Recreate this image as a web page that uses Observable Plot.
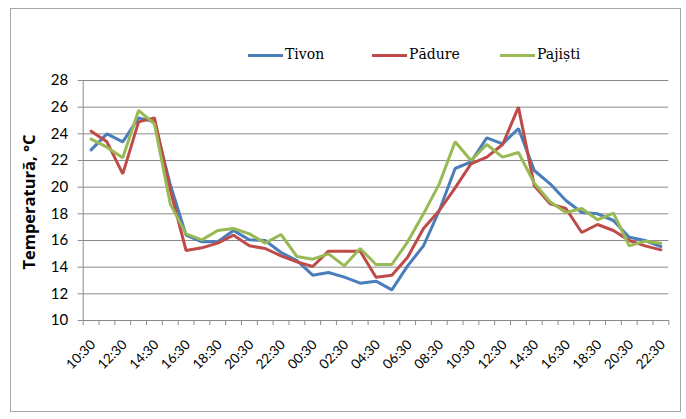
<!DOCTYPE html>
<html><head><meta charset="utf-8">
<script src="https://cdn.jsdelivr.net/npm/d3@7"></script>
<script src="https://cdn.jsdelivr.net/npm/@observablehq/plot@0.6"></script>
<style>
body{margin:0;background:#fff}
#wrap{position:relative;width:686px;height:419px;overflow:hidden;background:#fff}
#frame{position:absolute;left:10px;top:8px;width:671px;height:404px;border:1px solid #a6a6a6;box-sizing:border-box}
.lg{position:absolute;height:3px}
.lt{position:absolute;font-family:"DejaVu Serif","Liberation Serif","Times New Roman",serif;font-size:14px;color:#000;line-height:15px}
#ytitle{position:absolute;left:28px;top:202px;transform:translate(-50%,-50%) rotate(-90deg);font-family:"Open Sans",sans-serif;font-weight:bold;font-size:16.5px;white-space:nowrap;color:#000}
svg{position:absolute;left:0;top:0}
</style>
</head><body><div id="wrap"><div id="frame"></div></div>
<script>
const times = ["10:30","11:30","12:30","13:30","14:30","15:30","16:30","17:30","18:30","19:30","20:30","21:30","22:30","23:30",
  "00:30","01:30","02:30","03:30","04:30","05:30","06:30","07:30","08:30","09:30","10:30","11:30","12:30","13:30",
  "14:30","15:30","16:30","17:30","18:30","19:30","20:30","21:30","22:30"];
const tivon = [22.8,24.0,23.4,25.2,24.9,20.2,16.4,15.9,15.9,16.75,16.05,16.0,15.1,14.5,13.4,13.6,13.25,12.8,12.95,12.3,14.1,15.6,18.25,21.4,21.9,23.7,23.25,24.4,21.25,20.25,19.0,18.1,18.0,17.5,16.25,16.0,15.55];
const padure = [24.2,23.4,21.0,24.9,25.2,19.8,15.25,15.45,15.8,16.4,15.6,15.4,14.85,14.4,14.05,15.2,15.2,15.2,13.25,13.4,14.75,16.9,18.25,19.95,21.75,22.25,23.2,26.0,20.1,18.75,18.4,16.6,17.2,16.75,16.0,15.6,15.3];
const pajisti = [23.6,23.0,22.2,25.75,24.75,18.75,16.5,16.05,16.75,16.9,16.5,15.8,16.45,14.8,14.6,15.0,14.1,15.4,14.2,14.2,15.9,18.0,20.25,23.4,22.0,23.2,22.25,22.6,20.3,18.9,18.1,18.4,17.55,18.05,15.6,15.95,15.8];
const seriesNames = ["Tivon","Pădure","Pajiști"];
const colors = ["#4a7ebb","#be4b48","#98b954"];
const yTicks = [10,12,14,16,18,20,22,24,26,28];
const yTitle = "Temperatură, °C";

const data = [];
[tivon, padure, pajisti].forEach((arr, s) => arr.forEach((v, i) => data.push({i, t: v, s: seriesNames[s]})));
const boundaries = d3.range(times.length + 1).map(k => k - 0.5);
const labelIdx = d3.range(0, times.length, 2);

const plot = Plot.plot({
  width: 686, height: 419,
  marginLeft: 82.7, marginRight: 17.7, marginTop: 80, marginBottom: 99,
  style: {fontFamily: "Lato, sans-serif", fontSize: "13px", color: "#000", background: "transparent"},
  x: {domain: [-0.5, times.length - 0.5]},
  y: {domain: [10, 28]},
  color: {domain: seriesNames, range: colors},
  marks: [
    Plot.ruleY(yTicks.slice(1), {stroke: "#8a8a8a", strokeWidth: 1}),
    Plot.axisY({ticks: yTicks, tickSize: 5, tickPadding: 10, label: null, fontSize: 15, stroke: "#8a8a8a"}),
    Plot.ruleX([-0.5], {stroke: "#8a8a8a"}),
    Plot.ruleY([10], {stroke: "#8a8a8a"}),
    Plot.axisX({ticks: boundaries, tickSize: 5, tickFormat: () => "", label: null, stroke: "#8a8a8a"}),
    Plot.text(labelIdx, {x: d => d, y: 10, text: d => times[d], rotate: -45, textAnchor: "end", dy: 22, dx: 2, fontSize: 13.5}),
    Plot.line(data, {x: "i", y: "t", stroke: "s", z: "s", strokeWidth: 3, strokeLinejoin: "miter"})
  ]
});
const wrap = document.getElementById("wrap");
wrap.appendChild(plot);

const legendPos = [248, 372, 500];
seriesNames.forEach((n, k) => {
  const l = document.createElement("div");
  l.className = "lg";
  l.style.left = legendPos[k] + "px"; l.style.top = "54px"; l.style.width = "35px"; l.style.background = colors[k];
  wrap.appendChild(l);
  const t = document.createElement("div");
  t.className = "lt";
  t.style.left = (legendPos[k] + 37) + "px"; t.style.top = "47px";
  t.textContent = n;
  wrap.appendChild(t);
});
const yt = document.createElement("div");
yt.id = "ytitle"; yt.textContent = yTitle;
wrap.appendChild(yt);
</script></body></html>
